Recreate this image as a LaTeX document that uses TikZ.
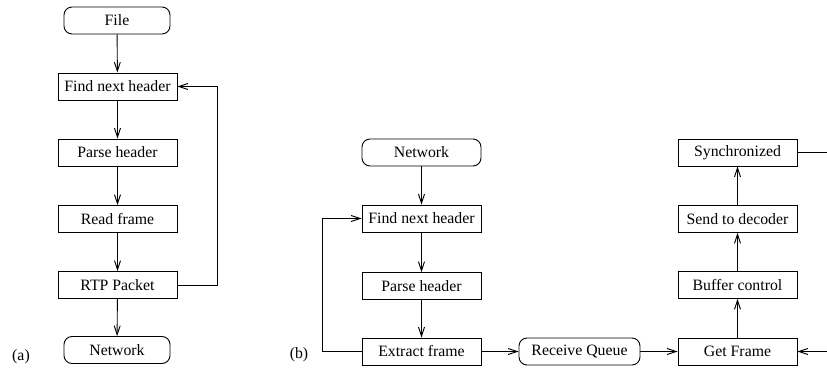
\documentclass[tikz,border=0pt]{standalone}
\usepackage{fontspec}
\setmainfont{Liberation Serif}
\usetikzlibrary{arrows.meta}
\begin{document}
\begin{tikzpicture}[x=1pt,y=-1pt,
  every node/.style={font=\fontsize{15.8}{18}\selectfont},
  box/.style={draw, line width=0.9pt, minimum width=119pt, minimum height=27pt, inner sep=0pt},
  term/.style={box, rounded corners=8pt},
  flow/.style={line width=0.9pt, -{Straight Barb[length=9pt,width=6pt,line width=0.9pt]}},
  line/.style={line width=0.9pt}]
\useasboundingbox (0,0) rectangle (827,369);
\clip (0,0) rectangle (827,369);

% (a) sender side
\node[term, minimum width=106pt] (fileA) at (117,20.5) {File};
\node[box] (findA) at (117.5,86.5) {Find next header};
\node[box] (parseA) at (117.5,152.5) {Parse header};
\node[box] (readA) at (117.5,219) {Read frame};
\node[box] (rtpA) at (117.5,285) {RTP Packet};
\node[term, minimum width=106pt] (netA) at (117,350) {Network};
\node (labA) at (21,357) {(a)};

\draw[flow] (fileA) -- (findA);
\draw[flow] (findA) -- (parseA);
\draw[flow] (parseA) -- (readA);
\draw[flow] (readA) -- (rtpA);
\draw[flow] (rtpA) -- (netA);
\draw[flow] (rtpA.east) -- (217,285) -- (217,86.5) -- (findA.east);

% (b) receiver side
\node[term] (netB) at (421.5,152.5) {Network};
\node[box] (findB) at (421.5,218.5) {Find next header};
\node[box] (parseB) at (421.5,286) {Parse header};
\node[box] (extractB) at (421.5,351.5) {Extract frame};
\node[term, minimum width=121pt] (queue) at (579.5,351.5) {Receive Queue};
\node[box] (getB) at (737.5,351.5) {Get Frame};
\node[box] (bufB) at (737.5,285) {Buffer control};
\node[box] (sendB) at (737.5,219) {Send to decoder};
\node[box] (syncB) at (737.5,152.5) {Synchronized};
\node (labB) at (299,355) {(b)};

\draw[flow] (netB) -- (findB);
\draw[flow] (findB) -- (parseB);
\draw[flow] (parseB) -- (extractB);
\draw[flow] (extractB.west) -- (322,351.5) -- (322,218.5) -- (findB.west);
\draw[flow] (extractB) -- (queue);
\draw[flow] (queue) -- (getB);
\draw[flow] (getB) -- (bufB);
\draw[flow] (bufB) -- (sendB);
\draw[flow] (sendB) -- (syncB);
\coordinate (outT) at (845,152.5);
\coordinate (outB) at (845,351.5);
\draw[flow] (syncB.east) -- (outT) -- (outB) -- (getB.east);
\end{tikzpicture}
\end{document}
